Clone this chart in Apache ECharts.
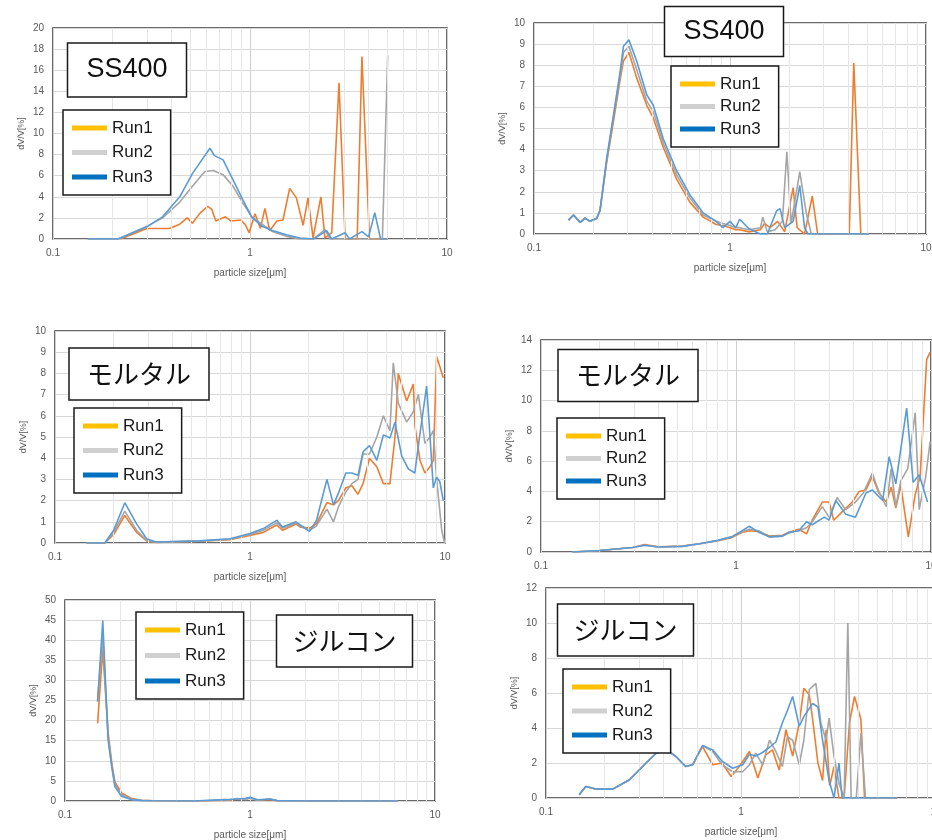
<!DOCTYPE html>
<html><head><meta charset="utf-8">
<script src="https://cdn.jsdelivr.net/npm/echarts@6/dist/echarts.min.js"></script>
<style>html,body{margin:0;padding:0;background:#fff}#c{width:932px;height:840px}</style>
</head><body><div id="c"></div>
<script>
// ---------- data ----------
const seriesNames = ['Run1', 'Run2', 'Run3'];
const panelTitles = ['SS400', 'SS400', 'モルタル', 'モルタル', 'ジルコン', 'ジルコン'];
const xTickValues = [0.1, 1, 10];
const minorGridValues = [0.2,0.3,0.4,0.5,0.6,0.7,0.8,0.9,2,3,4,5,6,7,8,9];

// Panel 1 : SS400 (left)
const p1Run1X = [0.22,0.3,0.34,0.39,0.44,0.48,0.51,0.56,0.61,0.64,0.67,0.75,0.8,0.9,0.95,0.99,1.06,1.13,1.19,1.26,1.37,1.47,1.59,1.72,1.86,1.97,2.09,2.29,2.4,2.6,2.83,3.04,3.5,3.7,4.04,5.0];
const p1Run1Y = [0,1.0,1.0,1.0,1.4,2.0,1.5,2.5,3.1,2.8,1.7,2.1,1.7,1.8,1.3,0.6,2.4,1.0,2.9,0.8,1.7,1.8,4.8,3.9,1.3,3.9,0.1,4.0,0.1,0.6,14.8,0,0,17.3,0,0];
const p1Run2X = [0.15,0.214,0.3,0.36,0.44,0.51,0.59,0.65,0.73,0.82,0.92,1.02,1.15,1.3,1.53,1.79,2.1,2.4,2.55,2.8,3.5,4.7,5.0];
const p1Run2Y = [0,0,1.2,2.0,3.5,5.0,6.4,6.5,6.1,5.0,3.4,2.1,1.4,0.7,0.25,0,0,0.9,0,0,0,0,17.4];
const p1Run3X = [0.15,0.214,0.3,0.36,0.44,0.51,0.626,0.66,0.73,0.82,0.92,1.02,1.15,1.3,1.53,1.79,2.1,2.45,2.6,3.04,3.2,3.7,4.0,4.3,4.6,5.0];
const p1Run3Y = [0,0,1.17,2.1,4.0,6.2,8.6,7.9,7.5,5.6,3.7,2.1,1.2,0.8,0.4,0.1,0,0.8,0,0.6,0,0.7,0.2,2.5,0,0];

// Panel 2 : SS400 (right)
const p2Run1X = [0.15,0.159,0.172,0.182,0.193,0.209,0.217,0.235,0.254,0.275,0.286,0.305,0.334,0.376,0.406,0.457,0.534,0.625,0.73,0.85,0.92,1.0,1.07,1.12,1.25,1.43,1.5,1.6,1.75,1.9,2.1,2.2,2.4,2.63,2.8,4.06,4.28,4.65,5.1];
const p2Run1Y = [0.66,0.9,0.55,0.75,0.6,0.75,1.1,3.4,5.3,7.3,8.2,8.6,7.4,6.1,5.5,4.1,2.6,1.5,0.8,0.45,0.4,0.3,0.2,0.2,0.1,0.2,0.5,0.3,0.6,0.1,2.2,0.3,0,1.8,0,0,8.1,0,0];
const p2Run2X = [0.15,0.159,0.172,0.182,0.193,0.209,0.217,0.235,0.254,0.275,0.286,0.305,0.334,0.376,0.406,0.457,0.534,0.625,0.73,0.85,0.92,1.0,1.07,1.12,1.25,1.43,1.47,1.55,1.7,1.85,1.95,2.05,2.27,2.45,2.6,5.1];
const p2Run2Y = [0.66,0.9,0.55,0.75,0.6,0.75,1.1,3.5,5.5,7.5,8.6,8.9,7.8,6.3,5.8,4.3,2.8,1.7,0.9,0.6,0.5,0.4,0.3,0.3,0.2,0.3,0.8,0.1,0.2,0.6,3.9,0.5,2.95,1.0,0,0];
const p2Run3X = [0.15,0.159,0.172,0.182,0.193,0.209,0.217,0.235,0.254,0.275,0.286,0.305,0.334,0.376,0.406,0.457,0.534,0.625,0.73,0.85,0.92,1.0,1.07,1.12,1.25,1.43,1.55,1.73,1.8,1.9,2.1,2.27,2.4,2.5,5.1];
const p2Run3Y = [0.66,0.9,0.55,0.75,0.6,0.75,1.1,3.6,5.6,7.7,8.9,9.2,8.2,6.6,6.1,4.5,3.0,1.85,1.0,0.6,0.3,0.6,0.3,0.7,0.25,0,0,1.1,1.2,0.3,0.6,2.3,0.3,0,0];

// Panel 3 : モルタル (left)
const p3Run1X = [0.145,0.18,0.2,0.228,0.262,0.295,0.33,0.55,0.79,1.0,1.17,1.37,1.47,1.72,1.81,2.02,2.19,2.48,2.68,2.84,3.1,3.33,3.58,3.8,4.1,4.47,4.83,5.22,5.54,5.76,6.36,6.88,7.02,7.44,7.89,8.38,8.71,9.06,9.8];
const p3Run1Y = [0,0,0.4,1.3,0.5,0.1,0.03,0.08,0.15,0.35,0.5,0.85,0.6,0.9,0.75,0.7,0.9,1.9,1.8,2.0,2.6,2.7,2.3,2.8,4.0,3.6,2.8,2.8,5.0,8.0,6.7,7.5,5.5,3.9,3.3,3.6,3.9,8.8,7.8];
const p3Run2X = [0.145,0.18,0.2,0.228,0.262,0.295,0.33,0.55,0.79,1.0,1.17,1.37,1.47,1.72,1.81,2.02,2.19,2.48,2.68,2.84,3.1,3.33,3.58,3.8,4.1,4.47,4.83,5.22,5.43,5.76,6.36,6.88,7.3,7.89,8.38,8.71,9.06,9.62,9.95];
const p3Run2Y = [0,0,0.5,1.5,0.6,0.12,0.04,0.09,0.18,0.4,0.6,0.95,0.7,0.95,0.8,0.6,0.8,1.6,1.0,1.7,2.4,2.8,3.0,4.2,4.2,5.0,6.0,5.3,8.5,6.6,5.7,6.2,7.0,4.7,5.0,5.3,3.0,0.6,0];
const p3Run3X = [0.145,0.18,0.2,0.228,0.262,0.295,0.33,0.55,0.79,1.0,1.17,1.37,1.47,1.72,1.81,2.02,2.19,2.48,2.68,2.84,3.1,3.33,3.58,3.8,4.1,4.47,4.83,5.22,5.54,6.0,6.49,7.0,7.4,8.05,8.38,8.71,9.06,9.4,9.8];
const p3Run3Y = [0,0,0.6,1.9,0.9,0.2,0.05,0.1,0.2,0.45,0.68,1.07,0.75,1.0,0.85,0.55,1.05,3.0,1.8,2.35,3.3,3.3,3.2,4.3,4.6,3.9,5.1,4.95,5.7,4.1,3.5,3.3,5.0,7.4,5.0,2.6,3.1,2.9,2.0];

// Panel 4 : モルタル (right)
const p4Run1X = [0.145,0.2,0.295,0.34,0.4,0.53,0.65,0.81,0.95,1.08,1.17,1.31,1.48,1.73,1.87,2.1,2.3,2.46,2.77,3.0,3.17,3.5,3.95,4.28,4.64,5.0,5.4,5.9,6.25,6.6,7.0,7.65,8.3,8.8,9.5,9.9];
const p4Run1Y = [0,0.1,0.3,0.5,0.35,0.4,0.55,0.75,0.95,1.3,1.4,1.35,1.05,1.1,1.3,1.5,1.2,2.1,3.3,3.3,2.1,2.65,3.3,4.0,4.1,5.0,3.9,3.3,4.3,2.9,4.4,1.0,3.8,5.0,12.7,13.2];
const p4Run2X = [0.145,0.2,0.295,0.34,0.4,0.53,0.65,0.81,0.95,1.08,1.17,1.31,1.48,1.73,1.87,2.1,2.3,2.46,2.77,3.0,3.3,3.65,4.1,4.5,5.0,5.4,5.9,6.25,6.6,7.0,7.6,8.3,8.7,9.4,9.9];
const p4Run2Y = [0,0.1,0.3,0.45,0.33,0.37,0.55,0.77,1.0,1.35,1.5,1.4,1.0,1.05,1.25,1.4,1.6,2.0,3.0,2.3,3.6,2.8,3.3,3.9,5.2,4.0,3.0,5.5,3.0,4.7,5.5,9.2,2.8,5.0,7.3];
const p4Run3X = [0.145,0.2,0.295,0.34,0.4,0.53,0.65,0.81,0.95,1.08,1.17,1.31,1.48,1.73,1.87,2.1,2.3,2.46,2.6,2.84,3.0,3.25,3.65,4.1,4.64,5.0,5.65,6.1,6.6,7.5,8.1,8.7,9.6];
const p4Run3Y = [0,0.1,0.3,0.45,0.33,0.37,0.55,0.77,1.0,1.43,1.7,1.3,1.0,1.05,1.3,1.4,2.0,1.8,2.0,2.3,2.1,3.4,2.5,2.3,3.9,4.1,3.4,6.3,4.5,9.5,4.6,5.1,3.3];

// Panel 5 : ジルコン (left)
const p5X = [0.15,0.16,0.171,0.179,0.186,0.202,0.23,0.26,0.3,0.5,0.78,0.85,0.95,1.0,1.1,1.28,1.4,2.0,6.3];
const p5Run1Y = [19.3,37.6,17.0,9.5,4.8,2.0,0.6,0.2,0.05,0,0.2,0.5,0.6,0.8,0.2,0.4,0.1,0,0];
const p5Run2Y = [25.1,40.9,16.0,8.8,4.2,1.6,0.4,0.15,0.05,0,0.3,0.6,0.4,0.7,0.2,0.5,0.1,0,0];
const p5Run3Y = [24.7,44.9,15.2,8.5,3.6,1.2,0.3,0.1,0.05,0,0.4,0.5,0.7,0.9,0.3,0.5,0.1,0,0];

// Panel 6 : ジルコン (right)
const p6Run1X = [0.148,0.16,0.18,0.22,0.268,0.326,0.367,0.412,0.464,0.52,0.565,0.635,0.716,0.8,0.89,0.98,1.105,1.22,1.34,1.45,1.57,1.7,1.84,1.99,2.1,2.24,2.33,2.48,2.62,2.73,2.85,3.0,3.18,3.38,3.6,3.82,4.12,4.3,6.3];
const p6Run1Y = [0.19,0.66,0.51,0.51,1.04,2.0,2.56,2.8,2.37,1.8,1.9,2.94,1.9,2.0,1.23,1.8,2.66,1.14,2.47,2.75,1.6,3.9,2.4,4.3,6.27,5.9,4.5,2.0,1.0,3.9,0.7,1.8,0,0,4.3,5.8,4.5,0,0];
const p6Run2X = [0.148,0.16,0.18,0.22,0.268,0.326,0.367,0.412,0.464,0.52,0.565,0.635,0.716,0.8,0.906,1.02,1.105,1.19,1.29,1.4,1.51,1.63,1.73,1.84,1.99,2.1,2.24,2.42,2.57,2.73,2.83,3.0,3.18,3.38,3.53,3.67,3.9,4.12,4.35,6.3];
const p6Run2Y = [0.19,0.66,0.51,0.51,1.04,2.0,2.56,2.8,2.37,1.8,1.9,3.0,2.66,1.9,1.5,1.5,1.9,2.56,1.9,3.3,2.66,1.8,3.5,3.3,1.9,3.3,6.2,6.55,4.27,3.3,4.56,2.37,0.85,0,10.0,0,0,3.7,0,0];
const p6Run3X = [0.148,0.16,0.18,0.22,0.268,0.326,0.367,0.412,0.464,0.52,0.565,0.635,0.716,0.8,0.906,1.02,1.105,1.19,1.29,1.4,1.51,1.63,1.73,1.84,1.99,2.1,2.33,2.48,2.62,2.83,3.0,3.18,3.3,6.3];
const p6Run3Y = [0.19,0.66,0.51,0.51,1.04,2.0,2.56,2.8,2.37,1.8,1.9,3.0,2.75,2.1,1.7,1.9,2.5,2.4,2.6,2.9,3.2,4.3,5.0,5.8,4.1,4.65,5.4,5.2,3.3,1.0,0,2.0,0,0];

// ---------- layout ----------
const lineColors = ['#ED7D31', '#A5A5A5', '#5B9BD5'];
const legendColors = ['#FFC000', '#D0D0D0', '#0070C0'];

const panels = [
  {grid:{left:53,top:28,width:394,height:211}, ymax:20, yint:2, xName:'particle size[μm]',
   xs:[p1Run1X,p1Run2X,p1Run3X], ys:[p1Run1Y,p1Run2Y,p1Run3Y],
   title:{left:67,top:43,w:120,h:54,fs:27}, legend:{left:63,top:110,gap:24.5}},
  {grid:{left:534,top:23,width:392,height:211}, ymax:10, yint:1, xName:'particle size[μm]',
   xs:[p2Run1X,p2Run2X,p2Run3X], ys:[p2Run1Y,p2Run2Y,p2Run3Y],
   title:{left:664,top:6,w:120,h:51,fs:27}, legend:{left:671,top:66,gap:22.5}},
  {grid:{left:55,top:331,width:390,height:212}, ymax:10, yint:1, xName:'particle size[μm]',
   xs:[p3Run1X,p3Run2X,p3Run3X], ys:[p3Run1Y,p3Run2Y,p3Run3Y],
   title:{left:69,top:348,w:140,h:52,fs:26}, legend:{left:74,top:408,gap:24.5}},
  {grid:{left:541,top:340,width:390,height:212}, ymax:14, yint:2, xName:'',
   xs:[p4Run1X,p4Run2X,p4Run3X], ys:[p4Run1Y,p4Run2Y,p4Run3Y],
   title:{left:558,top:349,w:140,h:53,fs:26}, legend:{left:557,top:418,gap:22.5}},
  {grid:{left:65,top:600,width:370,height:201}, ymax:50, yint:5, xName:'particle size[μm]',
   xs:[p5X,p5X,p5X], ys:[p5Run1Y,p5Run2Y,p5Run3Y],
   title:{left:276,top:615,w:137,h:52,fs:26}, legend:{left:136,top:612,gap:25.5}},
  {grid:{left:546,top:588,width:390,height:210}, ymax:12, yint:2, xName:'particle size[μm]',
   xs:[p6Run1X,p6Run2X,p6Run3X], ys:[p6Run1Y,p6Run2Y,p6Run3Y],
   title:{left:557,top:604,w:137,h:52,fs:26}, legend:{left:563,top:669,gap:24}}
];

const grids = [], xAxes = [], yAxes = [], series = [], titles = [], legends = [];
const labelStyle = {color:'#595959', fontSize:10, fontFamily:'Liberation Sans, Arial, sans-serif'};

panels.forEach((p, i) => {
  grids.push(Object.assign({show:true, borderColor:'#3a3a3a', borderWidth:1.5, backgroundColor:'#fff',
    containLabel:false, outerBoundsMode:'none'}, p.grid));
  xAxes.push({
    type:'log', logBase:10, min:0.1, max:10, gridIndex:i,
    name:p.xName, nameLocation:'middle', nameGap:29,
    nameTextStyle:{color:'#595959', fontSize:10, fontFamily:'Liberation Sans, Arial, sans-serif'},
    axisLine:{show:false}, axisTick:{show:false},
    axisLabel:Object.assign({margin:9, formatter:(v)=> xTickValues.indexOf(+(+v).toPrecision(3))>=0 ? String(+(+v).toPrecision(3)) : ''}, labelStyle),
    splitLine:{show:true, lineStyle:{color:'#d0d0d0', width:1}}
  });
  yAxes.push({
    type:'value', min:0, max:p.ymax, interval:p.yint, gridIndex:i,
    name:'dV/V[%]', nameLocation:'middle', nameGap:27,
    nameTextStyle:{color:'#595959', fontSize:9, fontFamily:'Liberation Sans, Arial, sans-serif'},
    axisLine:{show:false}, axisTick:{show:false},
    axisLabel:Object.assign({margin:9}, labelStyle),
    splitLine:{show:true, lineStyle:{color:'#d9d9d9', width:1}}
  });
  // minor vertical grid lines through the axis scale
  series.push({
    name:'minor-grid-' + i, type:'line', xAxisIndex:i, yAxisIndex:i, z:1,
    data:[[1,0]], showSymbol:false, symbol:'none', lineStyle:{opacity:0}, silent:true,
    markLine:{silent:true, symbol:['none','none'], label:{show:false}, animation:false,
      lineStyle:{color:'#e6e6e6', width:1, type:'solid'},
      emphasis:{disabled:true},
      data:minorGridValues.map(v => ({xAxis:v}))}
  });
  for (let k = 0; k < 3; k++) {
    series.push({
      name:seriesNames[k], type:'line', xAxisIndex:i, yAxisIndex:i, z:3 + k,
      data:p.xs[k].map((x, j) => [x, p.ys[k][j]]),
      showSymbol:false, symbol:'none', smooth:false,
      lineStyle:{color:lineColors[k], width:1.6},
      itemStyle:{color:lineColors[k]},
      clip:true
    });
  }
  const t = p.title;
  const textW = panelTitles[i].length === 5 ? 81 : 104;
  const padH = Math.max(2, (t.w - textW) / 2);
  const padV = (t.h - 30) / 2;
  titles.push({
    text:panelTitles[i], left:t.left, top:t.top, z:20,
    padding:[padV, padH, padV, padH],
    backgroundColor:'#fff', borderColor:'#1a1a1a', borderWidth:1.5,
    textStyle:{color:'#111', fontSize:t.fs, fontWeight:'normal', lineHeight:30,
      fontFamily: i < 2 ? 'Liberation Sans, Arial, sans-serif' : '"Noto Sans CJK JP", sans-serif'}
  });
  const L = p.legend;
  legends.push({
    orient:'vertical', left:L.left, top:L.top, z:20,
    padding:[8, 18, 8, 9], itemGap:L.gap - 20,
    backgroundColor:'#fff', borderColor:'#1a1a1a', borderWidth:1.5,
    icon:'rect', itemWidth:35, itemHeight:5,
    selectedMode:false,
    textStyle:{color:'#1a1a1a', fontSize:17, lineHeight:20, fontFamily:'Liberation Sans, Arial, sans-serif'},
    data:seriesNames.map((n, k) => ({name:n, icon:'rect', itemStyle:{color:legendColors[k], borderWidth:0}}))
  });
});

const chart = echarts.init(document.getElementById('c'), null, {renderer:'canvas'});
chart.setOption({
  animation:false,
  backgroundColor:'#fff',
  title:titles, legend:legends, grid:grids, xAxis:xAxes, yAxis:yAxes, series:series
});
</script></body></html>
